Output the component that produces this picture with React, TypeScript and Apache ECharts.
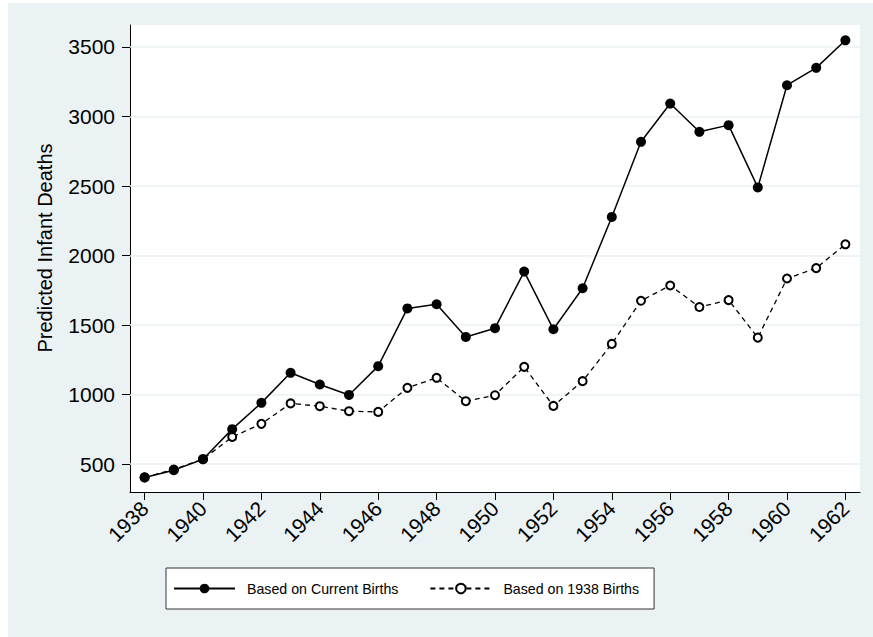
import React, { useEffect, useRef } from "react";
import * as echarts from "echarts";

const years = [
  "1938", "1939", "1940", "1941", "1942", "1943", "1944", "1945", "1946", "1947",
  "1948", "1949", "1950", "1951", "1952", "1953", "1954", "1955", "1956", "1957",
  "1958", "1959", "1960", "1961", "1962",
];
const currentBirths = [
  405, 457, 536, 752, 941, 1157, 1073, 998, 1205, 1620,
  1650, 1415, 1478, 1885, 1470, 1765, 2278, 2818, 3093, 2890,
  2938, 2490, 3225, 3350, 3548,
];
const births1938 = [
  405, 462, 536, 696, 790, 937, 917, 881, 876, 1049,
  1121, 953, 996, 1200, 919, 1097, 1365, 1675, 1785, 1630,
  1680, 1410, 1835, 1910, 2081,
];
const yTicks = [500, 1000, 1500, 2000, 2500, 3000, 3500];
const seriesNames = ["Based on Current Births", "Based on 1938 Births"];
const yTitle = "Predicted Infant Deaths";

const FONT = "'Liberation Sans', Arial, Helvetica, sans-serif";
const BG = "#EAF2F3";

export default function App() {
  const ref = useRef<HTMLDivElement>(null);
  useEffect(() => {
    if (!ref.current) return;
    const chart = echarts.init(ref.current, undefined, { renderer: "svg" });
    chart.setOption({
      animation: false,
      backgroundColor: BG,
      textStyle: { fontFamily: FONT },
      grid: {
        left: 122,
        top: 22,
        right: 13,
        bottom: 145,
        show: true,
        backgroundColor: "#ffffff",
        borderWidth: 0,
      },
      xAxis: {
        type: "category",
        data: years,
        boundaryGap: true,
        axisLine: { show: true, lineStyle: { color: "#000", width: 1 } },
        axisTick: {
          show: true,
          alignWithLabel: true,
          interval: 1,
          length: 8,
          lineStyle: { color: "#000", width: 1 },
        },
        axisLabel: {
          interval: 1,
          rotate: 45,
          fontSize: 21,
          color: "#000",
          margin: 13,
          fontFamily: FONT,
        },
        splitLine: { show: false },
      },
      yAxis: {
        type: "value",
        min: 300,
        max: 3658,
        axisLine: { show: true, lineStyle: { color: "#000", width: 1 } },
        axisTick: {
          show: true,
          length: 8,
          customValues: yTicks,
          lineStyle: { color: "#000", width: 1 },
        },
        axisLabel: {
          customValues: yTicks,
          fontSize: 21,
          color: "#000",
          margin: 15,
          fontFamily: FONT,
          formatter: (v: number) => String(v),
        },
        splitLine: { show: false },
      },
      legend: {
        left: 158,
        top: 565,
        orient: "horizontal",
        itemWidth: 61,
        itemHeight: 12,
        itemGap: 31,
        padding: [12, 15, 12, 7],
        borderColor: "#333",
        borderWidth: 1,
        backgroundColor: "#ffffff",
        textStyle: {
          fontSize: 14.2,
          lineHeight: 17,
          color: "#000",
          fontFamily: FONT,
          padding: [0, 0, 0, 7],
        },
        data: seriesNames,
      },
      graphic: [
        {
          type: "text",
          x: 37,
          y: 245,
          rotation: Math.PI / 2,
          style: {
            text: yTitle,
            fontSize: 20,
            fontFamily: FONT,
            fill: "#000",
            align: "center",
            verticalAlign: "middle",
          },
        },
      ],
      series: [
        {
          name: seriesNames[0],
          type: "line",
          data: currentBirths,
          z: 4,
          symbol: "circle",
          symbolSize: 10,
          itemStyle: { color: "#000" },
          lineStyle: { color: "#000", width: 1.5 },
        },
        {
          name: seriesNames[1],
          type: "line",
          data: births1938,
          z: 3,
          symbol: "emptyCircle",
          symbolSize: 8,
          itemStyle: { color: "#000", borderWidth: 1.5 },
          lineStyle: { color: "#000", width: 1.3, type: [5, 4] },
        },
        {
          name: "grid",
          type: "line",
          data: [],
          z: 1,
          silent: true,
          markLine: {
            silent: true,
            z: 1,
            symbol: "none",
            label: { show: false },
            lineStyle: { color: BG, width: 1.5, type: "solid" },
            data: yTicks.map((v) => ({ yAxis: v })),
          },
        },
      ],
    });
    return () => chart.dispose();
  }, []);
  return (
    <div style={{ position: "fixed", left: 0, top: 0, width: 873, height: 637, background: "#fff" }}>
      <div
        ref={ref}
        style={{ position: "absolute", left: 8, top: 3, width: 865, height: 634 }}
      />
    </div>
  );
}
